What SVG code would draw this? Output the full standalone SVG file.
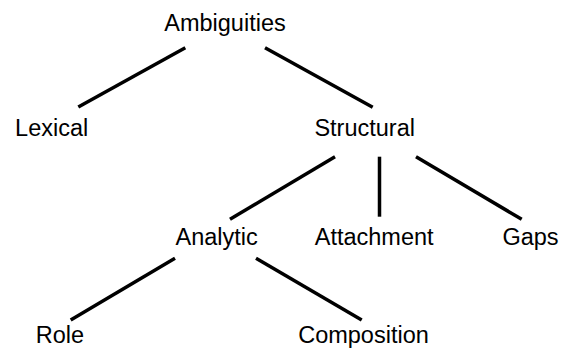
<svg xmlns="http://www.w3.org/2000/svg" width="568" height="348" viewBox="0 0 568 348">
<style>
.lbl{font-family:"Liberation Sans",Arial,sans-serif;font-size:23.5px;fill:#000;text-anchor:middle}
.edge{stroke:#000;stroke-width:3.5;stroke-linecap:butt;fill:none}
</style>
<rect width="568" height="348" fill="#fff"/>
<g id="connectors">
<line class="edge" x1="185.3" y1="47.7" x2="78.3" y2="107"/>
<line class="edge" x1="265" y1="47.7" x2="372.7" y2="107.3"/>
<line class="edge" x1="335" y1="156.7" x2="230" y2="219.3"/>
<line class="edge" x1="379.5" y1="156.7" x2="379.5" y2="216.7"/>
<line class="edge" x1="416" y1="156.7" x2="521.7" y2="219.3"/>
<line class="edge" x1="175" y1="258.3" x2="70.7" y2="320"/>
<line class="edge" x1="256" y1="258.3" x2="361.7" y2="320"/>
</g>
<g id="ambiguities"><text class="lbl" x="225" y="31">Ambiguities</text></g>
<g id="lexical"><text class="lbl" x="51.7" y="136">Lexical</text></g>
<g id="structural"><text class="lbl" x="364.7" y="136">Structural</text></g>
<g id="analytic"><text class="lbl" x="216.7" y="245">Analytic</text></g>
<g id="attachment"><text class="lbl" x="374.2" y="245">Attachment</text></g>
<g id="gaps"><text class="lbl" x="530.5" y="245">Gaps</text></g>
<g id="role"><text class="lbl" x="60" y="343">Role</text></g>
<g id="composition"><text class="lbl" x="363.5" y="343">Composition</text></g>
</svg>
